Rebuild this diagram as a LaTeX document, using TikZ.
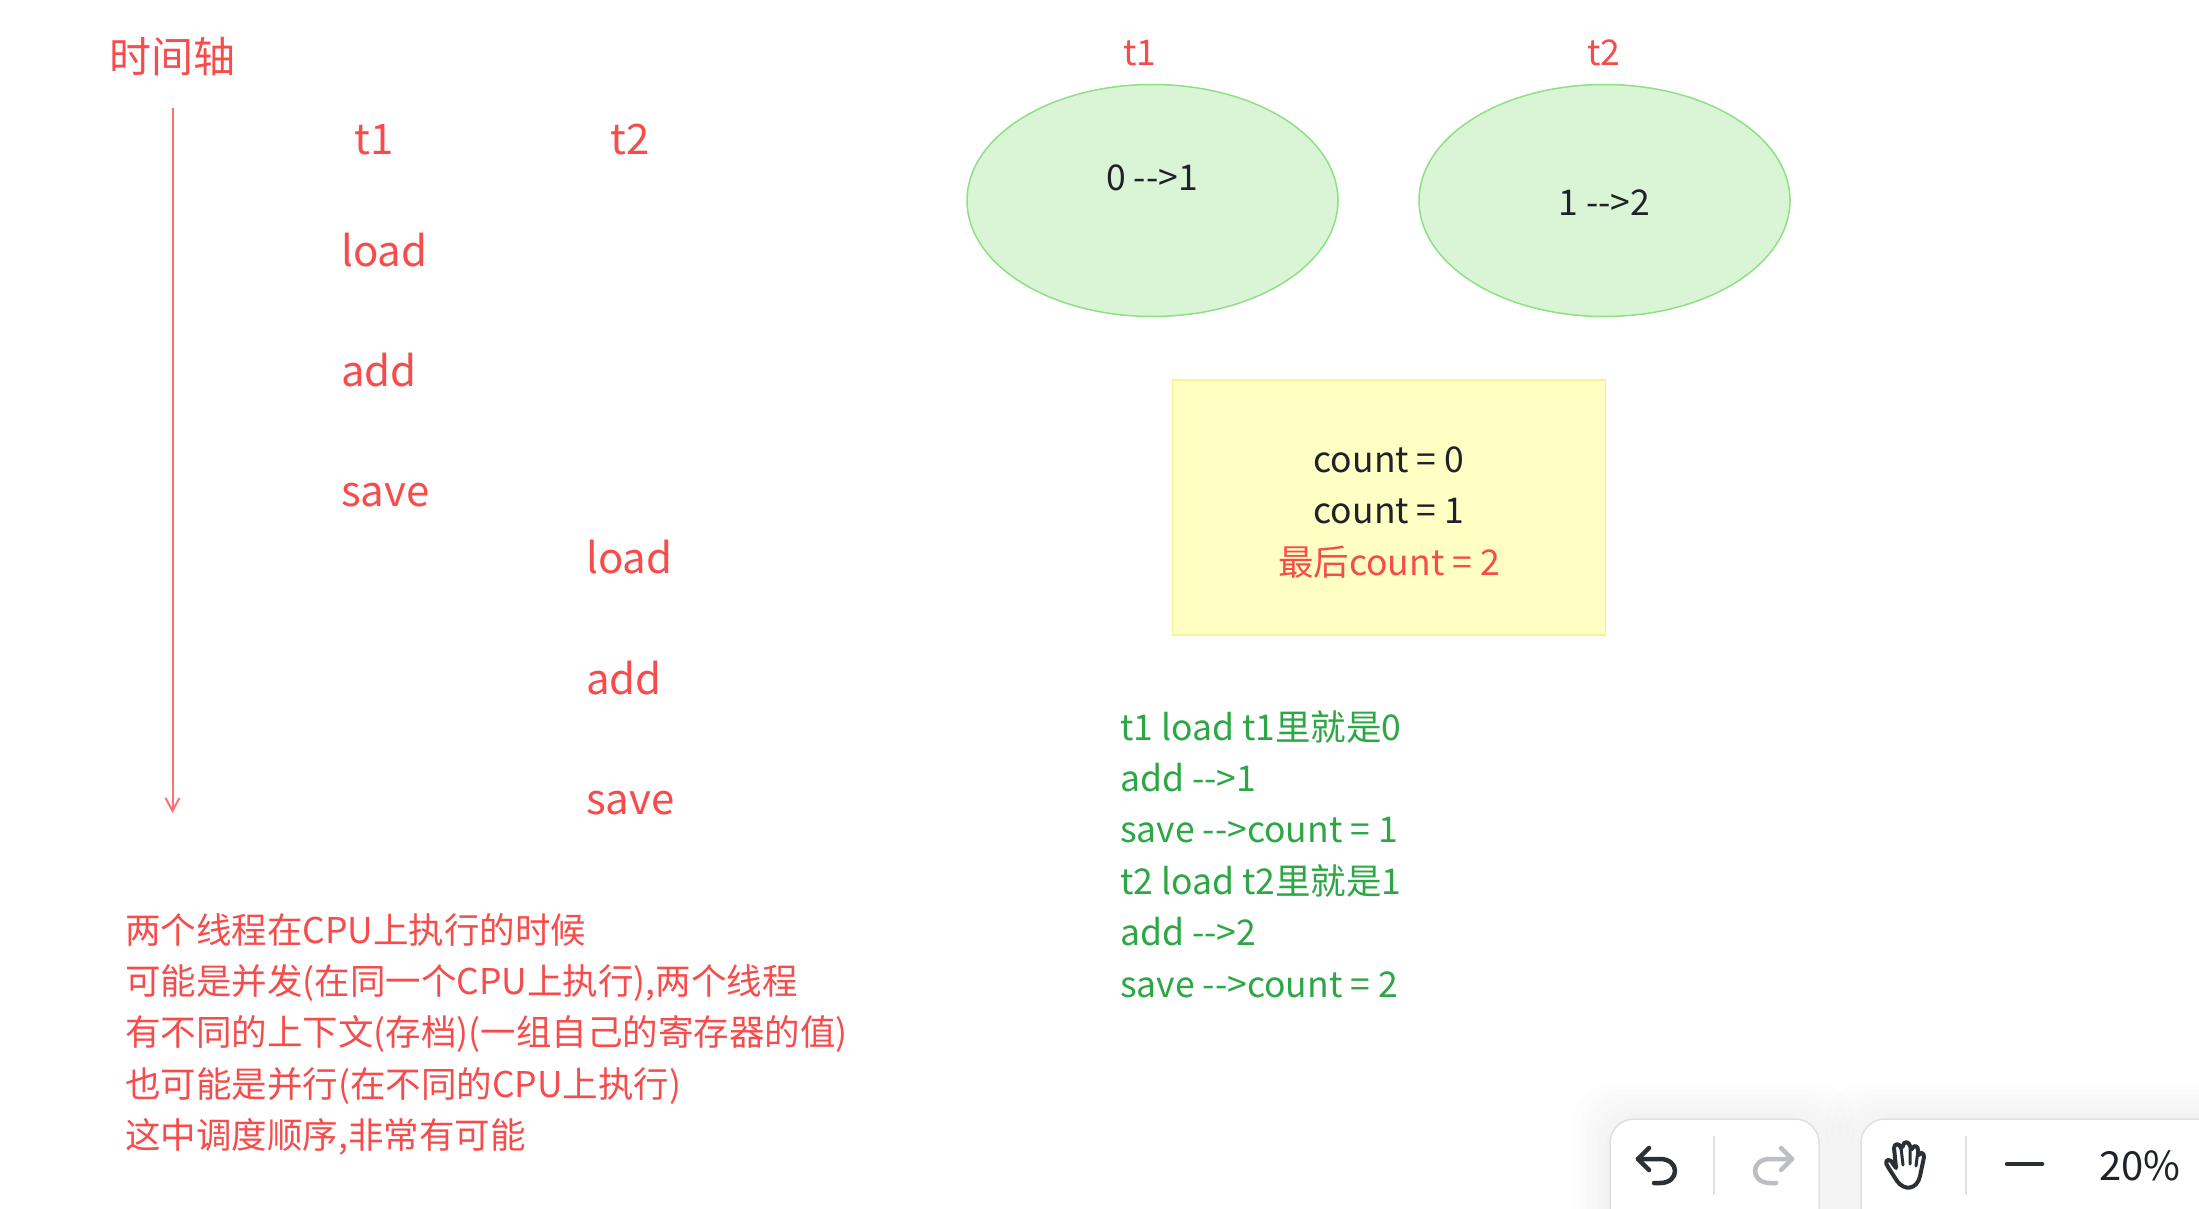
\documentclass[tikz,border=0pt]{standalone}
\usepackage{fontspec}
\setmainfont{Noto Sans CJK SC}
\usetikzlibrary{arrows.meta,shapes.geometric}
\definecolor{redtxt}{HTML}{F64C4C}
\definecolor{redline}{HTML}{FF7070}
\definecolor{greentxt}{HTML}{2DA744}
\definecolor{inktxt}{HTML}{1F2329}
\definecolor{ellfill}{HTML}{D9F5D6}
\definecolor{elldraw}{HTML}{8EE085}
\definecolor{yelfill}{HTML}{FFFFC4}
\definecolor{yeldraw}{HTML}{F3F38F}
\definecolor{tbline}{HTML}{DEE0E3}
\definecolor{icondark}{HTML}{2B2F36}
\definecolor{iconlight}{HTML}{BBBFC4}
\tikzset{
  x=1pt,y=-1pt,
  big/.style={font=\fontsize{42}{50}\selectfont,text=redtxt,inner sep=0pt},
  mid/.style={font=\fontsize{35.5}{51.4}\selectfont,inner sep=0pt},
  ell/.style={ellipse,draw=elldraw,fill=ellfill,line width=1.5pt,minimum width=371pt,minimum height=232pt,inner sep=0pt},
  note/.style={draw=yeldraw,fill=yelfill,line width=1.5pt,minimum width=433pt,minimum height=255pt,inner sep=0pt},
  tbar/.style={draw=tbline,fill=white,line width=1.5pt,rounded corners=24pt},
  tdiv/.style={draw=tbline,line width=2pt},
  icon/.style={draw=icondark,line width=4.5pt,line cap=round,line join=round},
  iconb/.style={draw=iconlight,line width=4.5pt,line cap=round,line join=round},
  shad/.style={fill=black,fill opacity=0.006,rounded corners=40pt}
}
\begin{document}
\begin{tikzpicture}
\useasboundingbox (0,0) rectangle (2199,1209);
\fill[white] (0,0) rectangle (2199,1209);
% timeline
\node[big] (axis) at (172,57) {时间轴};
\coordinate (axisA) at (172.5,108);
\coordinate (axisB) at (172.5,813);
\draw[redline,line width=2pt,-{Straight Barb[length=13pt,width=14pt,line width=2pt]}] (axisA) -- (axisB);
\node[big] (ta) at (374,140) {t1};
\node[big] (tb) at (630,140) {t2};
\node[big,anchor=west] (la) at (341,250) {load};
\node[big,anchor=west] (aa) at (341,370) {add};
\node[big,anchor=west] (sa) at (341,495) {save};
\node[big,anchor=west] (lb) at (586,557) {load};
\node[big,anchor=west] (ab) at (586,678) {add};
\node[big,anchor=west] (sb) at (586,803) {save};
% notes bottom-left
\node[mid,text=redtxt,anchor=north west,align=left] (expl) at (125,913) {两个线程在CPU上执行的时候\\可能是并发(在同一个CPU上执行),两个线程\\有不同的上下文(存档)(一组自己的寄存器的值)\\也可能是并行(在不同的CPU上执行)\\这中调度顺序,非常有可能};
% ellipses
\node[ell] (ea) at (1152.5,200.5) {};
\node[ell] (eb) at (1604.5,200.5) {};
\node[mid,text=redtxt] (tla) at (1140,53) {t1};
\node[mid,text=redtxt] (tlb) at (1604,53) {t2};
\node[mid,text=inktxt] (va) at (1152,178) {0 -{}->1};
\node[mid,text=inktxt] (vb) at (1604.5,203) {1 -{}->2};
% yellow box
\node[note] (box) at (1389,507.5) {};
\node[mid,text=inktxt,align=center] (boxtxt) at (1389,512.5) {count = 0\\count = 1\\\textcolor{redtxt}{最后count = 2}};
% green
\node[mid,text=greentxt,anchor=north west,align=left] (steps) at (1120,710) {t1 load t1里就是0\\add -{}->1\\save -{}->count = 1\\t2 load t2里就是1\\add -{}->2\\save -{}->count = 2};
% toolbar
\foreach \g in {36,30,24,18,12,6}{
  \fill[shad] (1610-\g,1119-\g) rectangle (1819+\g,1260);
  \fill[shad] (1861-\g,1119-\g) rectangle (2260,1260);
}
\draw[tbar] (1610,1119) rectangle (1819,1260);
\draw[tbar] (1861,1119) rectangle (2260,1260);
\coordinate (da) at (1714,1136); \coordinate (db) at (1714,1195);
\draw[tdiv] (da) -- (db);
\coordinate (dc) at (1966,1136); \coordinate (dd) at (1966,1195);
\draw[tdiv] (dc) -- (dd);
% undo
\draw[icon] (1649,1148) -- (1638,1159) -- (1649,1170);
\draw[icon] (1638,1159) -- (1660,1159) .. controls (1680,1159) and (1680,1183) .. (1660,1183) -- (1654,1183);
% redo
\draw[iconb] (1781,1148) -- (1792,1159) -- (1781,1170);
\draw[iconb] (1792,1159) -- (1770,1159) .. controls (1750,1159) and (1750,1183) .. (1770,1183) -- (1776,1183);
% hand
\draw[icon,line width=4pt] (1888,1167) .. controls (1884,1162) and (1887,1158) .. (1891,1161) -- (1896,1168) -- (1894,1148) .. controls (1894,1143) and (1900,1143) .. (1901,1148) -- (1903,1146) .. controls (1903,1141) and (1909,1141) .. (1910,1146) -- (1912,1149) .. controls (1913,1145) and (1918,1145) .. (1918,1150) -- (1919,1155) .. controls (1920,1152) and (1924,1152) .. (1924,1157) -- (1920,1176) .. controls (1917,1190) and (1904,1191) .. (1897,1181) -- cycle;
\draw[icon,line width=3pt] (1901,1148) -- (1903,1165) (1910,1146) -- (1910,1164) (1918,1150) -- (1916,1166);
% minus
\coordinate (ma) at (2007,1164); \coordinate (mb) at (2042,1164);
\draw[icon] (ma) -- (mb);
\node[font=\fontsize{40}{48}\selectfont,text=inktxt,inner sep=0pt] (zoomlab) at (2140,1166) {20\%};
\end{tikzpicture}
\end{document}
